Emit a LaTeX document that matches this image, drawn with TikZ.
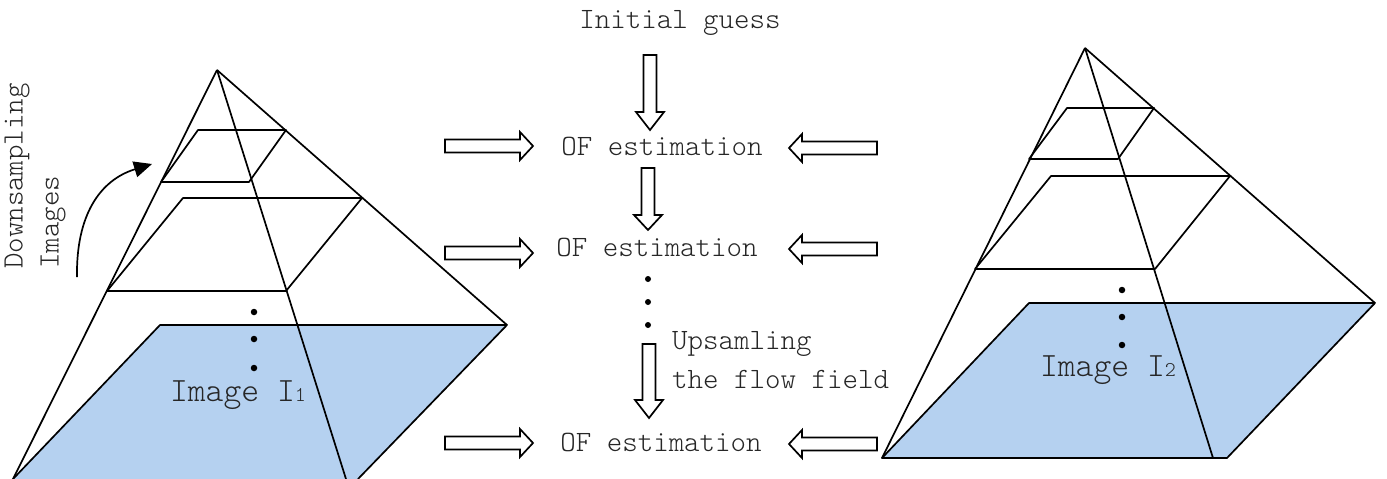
\documentclass[tikz,border=0pt]{standalone}
\usepackage{fontspec}
\usetikzlibrary{arrows.meta}
\setmonofont{Latin Modern Mono Light}
\definecolor{imgblue}{RGB}{181,209,240}
\tikzset{
  pyr/.style={line width=1.7pt, line join=round},
  imgfill/.style={fill=imgblue},
  lbl/.style={font=\ttfamily\fontsize{29.5}{36}\selectfont, inner sep=0pt, text=black!85},
  imglbl/.style={font=\ttfamily\fontsize{34}{36}\selectfont, inner sep=0pt, text=black!85},
  arrowline/.style={line width=1.7pt, fill=white, line join=miter},
  bigdot/.style={circle, fill=black, inner sep=0pt, minimum size=6.5pt},
  pics/barrow/.style 2 args={code={
    \draw[arrowline] (0,-6.5) -- (#1-#2,-6.5) -- (#1-#2,-14) -- (#1,0)
      -- (#1-#2,14) -- (#1-#2,6.5) -- (0,6.5) -- cycle;}}
}
\begin{document}
\begin{tikzpicture}[x=1pt,y=-1pt]
\useasboundingbox (0,0) rectangle (1387,479);

% ---------- left pyramid (image I1) ----------
\coordinate (LA) at (217,70);
\coordinate (LBL) at (13,479);
\coordinate (LR) at (507,325);
\coordinate (LM) at (346,479);
\fill[imgfill] (160,325) -- (LR) -- (358,479) -- (LBL) -- cycle;
\draw[pyr] (LBL) -- (160,325) -- (LR) -- (358,479);
\draw[pyr] (LA) -- (LBL);
\draw[pyr] (LA) -- (LR);
\draw[pyr] (LA) -- (LM);
\draw[pyr] (161,182) -- (198,130) -- (286,130) -- (249,182) -- cycle;
\draw[pyr] (107,291) -- (183,198) -- (362,198) -- (286,291) -- cycle;
\node[bigdot] (ld1) at (254,312) {};
\node[bigdot] (ld2) at (254,339) {};
\node[bigdot] (ld3) at (254,368) {};
\node[imglbl] (img1) at (238,395) {Image I{\fontsize{21}{21}\selectfont 1}};

% downsampling arrow and its label
\node[lbl, rotate=90, align=left] (down) at (35,176) {Downsampling\\Images};
\coordinate (dsA) at (77,277);
\coordinate (dsB) at (152,164);
\draw[line width=1.7pt, -{Triangle[length=18pt,width=16pt]}]
  (dsA) .. controls (76,215) and (100,180) .. (dsB);

% ---------- right pyramid (image I2) ----------
\coordinate (RA) at (1085,48);
\coordinate (RBL) at (882,458);
\coordinate (RR) at (1375,303);
\coordinate (RM) at (1213,458);
\fill[imgfill] (1029,303) -- (RR) -- (1227,458) -- (RBL) -- cycle;
\draw[pyr] (RBL) -- (1029,303) -- (RR) -- (1227,458) -- cycle;
\draw[pyr] (RA) -- (RBL);
\draw[pyr] (RA) -- (RR);
\draw[pyr] (RA) -- (RM);
\draw[pyr] (1029,159) -- (1067,108) -- (1154,108) -- (1118,159) -- cycle;
\draw[pyr] (975,269) -- (1051,176) -- (1230,176) -- (1155,269) -- cycle;
\node[bigdot] (rd1) at (1122,290) {};
\node[bigdot] (rd2) at (1122,317) {};
\node[bigdot] (rd3) at (1122,345) {};
\node[imglbl] (img2) at (1108,370) {Image I{\fontsize{21}{21}\selectfont 2}};

% ---------- coarse-to-fine estimation chain ----------
\node[lbl] (init) at (680,23) {Initial guess};
\node[lbl] (of1) at (662,146) {OF estimation};
\node[lbl] (of2) at (657,247) {OF estimation};
\node[lbl] (of3) at (661,442) {OF estimation};
\node[bigdot, minimum size=6pt] (cd1) at (648,279) {};
\node[bigdot, minimum size=6pt] (cd2) at (648,302) {};
\node[bigdot, minimum size=6pt] (cd3) at (648,325) {};
\node[lbl, align=left, anchor=west, font=\ttfamily\fontsize{29.5}{39}\selectfont]
  (ups) at (672,360) {Upsamling\\the flow field};

% vertical block arrows
\pic[rotate=-90] at (650,55) {barrow={75}{18}};
\pic[rotate=-90] at (648,168) {barrow={62}{15}};
\pic[rotate=-90] at (649,344) {barrow={74}{18}};

% block arrows from the left pyramid
\pic at (445,146) {barrow={88}{13}};
\pic at (445,253) {barrow={88}{13}};
\pic at (445,443) {barrow={88}{13}};

% block arrows from the right pyramid
\pic[rotate=180] at (877,148) {barrow={88}{13}};
\pic[rotate=180] at (877,249) {barrow={88}{13}};
\pic[rotate=180] at (877,444) {barrow={88}{13}};
\end{tikzpicture}
\end{document}
